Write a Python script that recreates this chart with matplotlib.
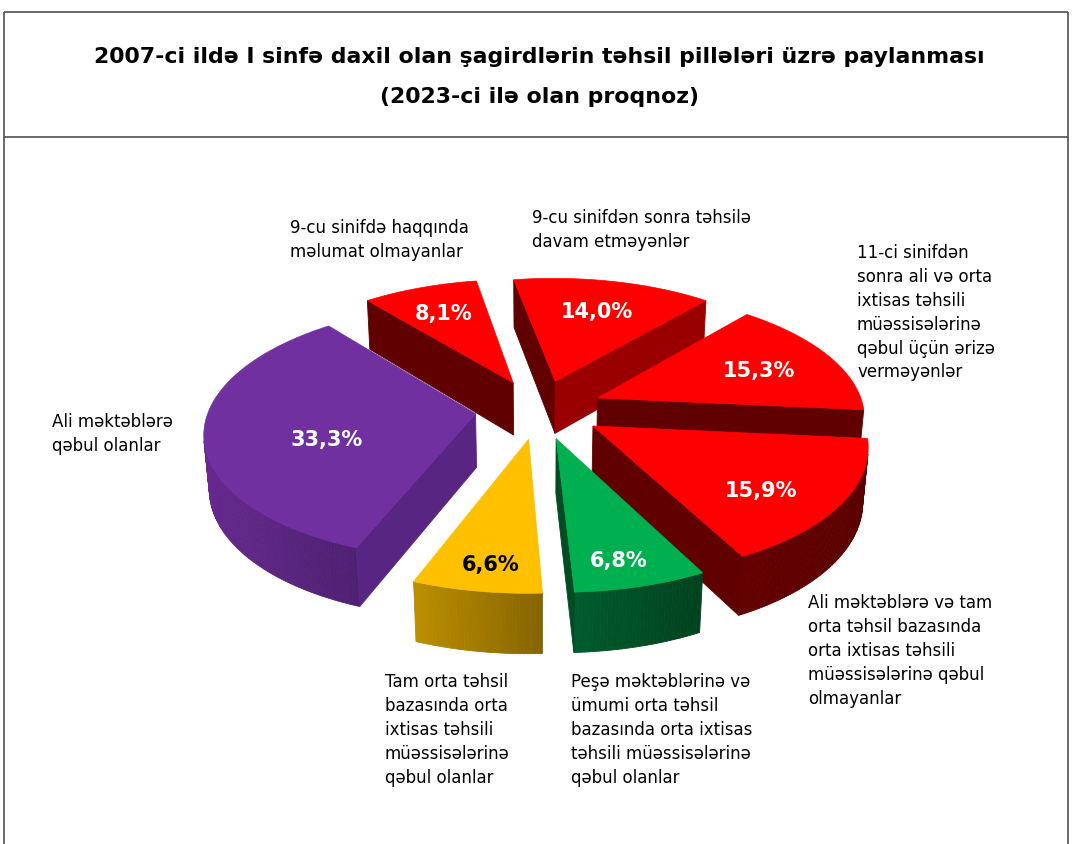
import numpy as np
import matplotlib
matplotlib.use("Agg")
import matplotlib.pyplot as plt
from matplotlib.patches import Polygon
from matplotlib.colors import to_rgb

# slices, clockwise from the top of the pie
categories = [
    "9-cu sinifdən sonra təhsilə\ndavam etməyənlər",
    "11-ci sinifdən\nsonra ali və orta\nixtisas təhsili\nmüəssisələrinə\nqəbul üçün ərizə\nverməyənlər",
    "Ali məktəblərə və tam\norta təhsil bazasında\norta ixtisas təhsili\nmüəssisələrinə qəbul\nolmayanlar",
    "Peşə məktəblərinə və\nümumi orta təhsil\nbazasında orta ixtisas\ntəhsili müəssisələrinə\nqəbul olanlar",
    "Tam orta təhsil\nbazasında orta\nixtisas təhsili\nmüəssisələrinə\nqəbul olanlar",
    "Ali məktəblərə\nqəbul olanlar",
    "9-cu sinifdə haqqında\nməlumat olmayanlar",
]
shares = [14.0, 15.3, 15.9, 6.8, 6.6, 33.3, 8.1]

title_lines = ["2007-ci ildə I sinfə daxil olan şagirdlərin təhsil pillələri üzrə paylanması",
               "(2023-ci ilə olan proqnoz)"]

# colours
top_colors = ["#FF0000", "#FF0000", "#FF0000", "#00B050", "#FFC000", "#7030A0", "#FF0000"]
wall_colors = [("#640000", "#5C0000")] * 3 + [("#005C2C", "#00421F"),
                                              ("#BA8E00", "#866500"),
                                              ("#66298E", "#4E2072"),
                                              ("#640000", "#5C0000")]
face_colors = ["#600000", "#600000", "#600000", "#004D24", "#9A7600", "#54237A", "#600000"]
pct_colors = ["white", "white", "white", "white", "black", "white", "white"]

# where the category texts sit (pixels, top-left)
label_xy = [(532, 209), (857, 244), (808, 594), (571, 673), (385, 673), (52, 413), (290, 219)]

# camera for the 3D look
F = 1732.0
D = 6.5
tilt = np.radians(27.7)
cx0, cy0 = 539.0, 410.0
depth = 0.23
explode = 0.24
start = -10.0
cam = np.array([0.0, -D * np.cos(tilt), D * np.sin(tilt)])


def proj(X, Y, H):
    X = np.asarray(X, float)
    Y = np.asarray(Y, float)
    H = np.asarray(H, float)
    c, s = np.cos(tilt), np.sin(tilt)
    zc = D + Y * c - H * s
    return cx0 + F * X / zc, cy0 - F * (Y * s + H * c) / zc


def facing(p, n):
    return np.dot(n, cam - np.asarray(p)) > 0


def mix(a, b, u):
    a, b = np.array(to_rgb(a)), np.array(to_rgb(b))
    return tuple(a + (b - a) * u)


def lit(color, normal_deg):
    # only faces turned to the lower right catch the light
    k = 1 + 0.6 * max(0.0, np.cos(np.radians(normal_deg - 130))) ** 40
    return tuple(min(1.0, ch * k) for ch in to_rgb(color))


fig = plt.figure(figsize=(10.75, 8.45), dpi=100)
ax = fig.add_axes([0, 0, 1, 1])
ax.set_xlim(0, 1075)
ax.set_ylim(845, 0)
ax.axis("off")

# frame
frame = dict(color="#505050", lw=1.2, solid_capstyle="butt")
ax.plot([4, 1068], [13, 13], **frame)
ax.plot([4, 1068], [138, 138], **frame)
ax.plot([4, 4], [13, 845], **frame)
ax.plot([1068, 1068], [13, 845], **frame)

for ty, line in zip([57, 97], title_lines):
    ax.text(539, ty, line, ha="center", va="center", fontsize=15.8,
            fontweight="bold")

bounds = np.cumsum([0] + shares) * 3.6 + start
order = []
for i in range(len(shares)):
    a0, a1 = bounds[i], bounds[i + 1]
    mid = np.radians((a0 + a1) / 2)
    half = np.radians(a1 - a0) / 2
    rc = 2 * np.sin(half) / (3 * half)
    oy = explode * np.cos(mid)
    zkey = (oy + rc * np.cos(mid)) * np.cos(tilt)
    order.append((zkey, i))
order.sort(reverse=True)

for _, i in order:
    a0, a1 = bounds[i], bounds[i + 1]
    mid = np.radians((a0 + a1) / 2)
    ox, oy = explode * np.sin(mid), explode * np.cos(mid)
    n = max(8, int((a1 - a0) * 1.5))
    t = np.radians(np.linspace(a0, a1, n + 1))
    X = ox + np.sin(t)
    Y = oy + np.cos(t)
    xt, yt = proj(X, Y, 0.0)
    xb, yb = proj(X, Y, -depth)

    # outer wall
    segs = []
    for k in range(n):
        tm = (t[k] + t[k + 1]) / 2
        p = [ox + np.sin(tm), oy + np.cos(tm), -depth / 2]
        if facing(p, [np.sin(tm), np.cos(tm), 0.0]):
            segs.append(k)
    if segs:
        xs = [(xt[k] + xt[k + 1]) / 2 for k in segs]
        lo, hi = min(xs), max(xs)
        for k, xm in zip(segs, xs):
            u = (xm - lo) / (hi - lo) if hi > lo else 0.5
            col = mix(wall_colors[i][0], wall_colors[i][1], u)
            quad = [(xt[k], yt[k]), (xt[k + 1], yt[k + 1]),
                    (xb[k + 1], yb[k + 1]), (xb[k], yb[k])]
            ax.add_patch(Polygon(quad, closed=True, facecolor=col,
                                 edgecolor=col, lw=0.6))

    # radial faces
    axt, ayt = proj(ox, oy, 0.0)
    axb, ayb = proj(ox, oy, -depth)
    for ang, idx in ((a0, 0), (a1, -1)):
        nd = ang - 90 if idx == 0 else ang + 90
        r = np.radians(ang)
        p = [ox + 0.5 * np.sin(r), oy + 0.5 * np.cos(r), -depth / 2]
        nr = np.radians(nd)
        if facing(p, [np.sin(nr), np.cos(nr), 0.0]):
            col = lit(face_colors[i], nd % 360)
            quad = [(float(axt), float(ayt)), (xt[idx], yt[idx]),
                    (xb[idx], yb[idx]), (float(axb), float(ayb))]
            ax.add_patch(Polygon(quad, closed=True, facecolor=col,
                                 edgecolor=col, lw=0.6))

    # top face
    top = [(float(axt), float(ayt))] + list(zip(xt, yt))
    ax.add_patch(Polygon(top, closed=True, facecolor=top_colors[i],
                         edgecolor=top_colors[i], lw=0.5))

    # value label near the (screen) centroid of the top face
    pts = np.array(top)
    px = pts[:, 0]
    py = pts[:, 1]
    cross = px * np.roll(py, -1) - np.roll(px, -1) * py
    area = cross.sum() / 2
    gx = ((px + np.roll(px, -1)) * cross).sum() / (6 * area)
    gy = ((py + np.roll(py, -1)) * cross).sum() / (6 * area)
    f = 1.15 - 0.15 * shares[i] / max(shares)
    gx = float(axt) + (gx - float(axt)) * f
    gy = float(ayt) + (gy - float(ayt)) * f
    gy += 0.065 * max(0.0, gy - cy0 + 40)
    txt = f"{shares[i]:.1f}".replace(".", ",") + "%"
    ax.text(gx, gy, txt, ha="center", va="center", fontsize=15,
            fontweight="bold", color=pct_colors[i])

for (lx, ly), name in zip(label_xy, categories):
    ax.text(lx, ly, name, ha="left", va="top", fontsize=12, linespacing=1.42)

fig.savefig("out.png", dpi=100)
